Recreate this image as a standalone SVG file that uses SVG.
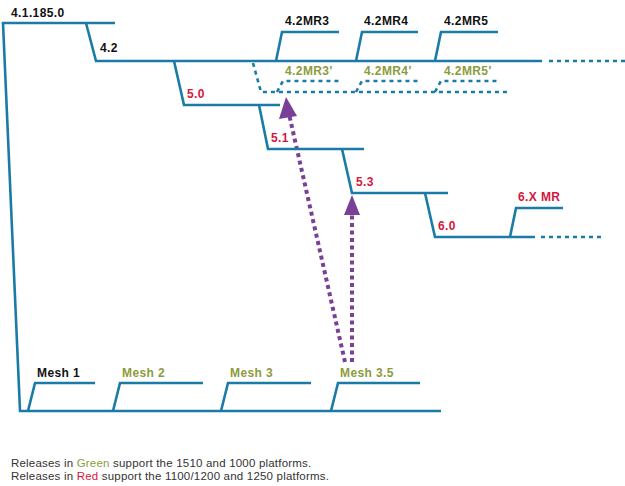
<svg xmlns="http://www.w3.org/2000/svg" width="625" height="486" viewBox="0 0 625 486">
  <defs>
    <style>
      .ln{fill:none;stroke:#1a7ca6;stroke-width:2.6;stroke-linejoin:miter}
      .dt{fill:none;stroke:#1a7ca6;stroke-width:2.6;stroke-dasharray:4 4}
      .ar{fill:none;stroke:#7a3f96;stroke-width:4;stroke-dasharray:4 3.5}
      .lb{font-family:"Liberation Sans",Arial,sans-serif;font-weight:bold;font-size:12px;letter-spacing:0.4px}
      .k{fill:#111}
      .r{fill:#d3173d}
      .g{fill:#8c9b3c}
      .ft{font-family:"Liberation Sans",Arial,sans-serif;font-size:11.5px;letter-spacing:0.2px;fill:#333}
    </style>
  </defs>
  <rect width="625" height="486" fill="#ffffff"/>

  <g id="connectors">
    <path class="ar" d="M345,362 L289,114"/>
    <path d="M286,97 L279,119 L297,116 Z" fill="#7a3f96"/>
    <path class="ar" d="M352,362 L352,213"/>
    <path d="M352,195 L344,215 L360,215 Z" fill="#7a3f96"/>
  </g>

  <g id="n-root">
    <path class="ln" d="M115,23 L3,23 L20,411 L441,411"/>
    <text class="lb k" x="11" y="17">4.1.185.0</text>
  </g>

  <g id="n-42">
    <path class="ln" d="M86,23 L96,61 L542,61"/>
    <path class="dt" d="M549,61 L625,61"/>
    <text class="lb k" x="100" y="52">4.2</text>
  </g>

  <g id="n-42mr3">
    <path class="ln" d="M276,61 L282,32 L339,32"/>
    <text class="lb k" x="285" y="25">4.2MR3</text>
  </g>
  <g id="n-42mr4">
    <path class="ln" d="M356,61 L362,32 L418,32"/>
    <text class="lb k" x="364" y="25">4.2MR4</text>
  </g>
  <g id="n-42mr5">
    <path class="ln" d="M435,61 L441,32 L498,32"/>
    <text class="lb k" x="444" y="25">4.2MR5</text>
  </g>

  <g id="n-42prime">
    <path class="dt" d="M253,63 L261,92 L508,92"/>
  </g>
  <g id="n-42mr3p">
    <path class="dt" d="M277,92 L283,81 L339,81"/>
    <text class="lb g" x="285" y="75">4.2MR3'</text>
  </g>
  <g id="n-42mr4p">
    <path class="dt" d="M356,92 L362,81 L418,81"/>
    <text class="lb g" x="364" y="75">4.2MR4'</text>
  </g>
  <g id="n-42mr5p">
    <path class="dt" d="M435,92 L441,81 L498,81"/>
    <text class="lb g" x="444" y="75">4.2MR5'</text>
  </g>

  <g id="n-50">
    <path class="ln" d="M174,61 L184,105 L280,105"/>
    <text class="lb r" x="187" y="98">5.0</text>
  </g>
  <g id="n-51">
    <path class="ln" d="M259,105 L268,149 L364,149"/>
    <text class="lb r" x="271" y="142">5.1</text>
  </g>
  <g id="n-53">
    <path class="ln" d="M342,149 L352,193 L448,193"/>
    <text class="lb r" x="356" y="186">5.3</text>
  </g>
  <g id="n-60">
    <path class="ln" d="M425,193 L435,237 L535,237"/>
    <path class="dt" d="M541,237 L601,237"/>
    <text class="lb r" x="438" y="230">6.0</text>
  </g>
  <g id="n-6xmr">
    <path class="ln" d="M510,237 L516,208 L563,208"/>
    <text class="lb r" x="518" y="201">6.X MR</text>
  </g>

  <g id="n-mesh1">
    <path class="ln" d="M28,411 L35,383 L95,383"/>
    <text class="lb k" x="37" y="377">Mesh 1</text>
  </g>
  <g id="n-mesh2">
    <path class="ln" d="M113,411 L120,383 L203,383"/>
    <text class="lb g" x="122" y="377">Mesh 2</text>
  </g>
  <g id="n-mesh3">
    <path class="ln" d="M221,411 L228,383 L311,383"/>
    <text class="lb g" x="230" y="377">Mesh 3</text>
  </g>
  <g id="n-mesh35">
    <path class="ln" d="M331,411 L338,383 L420,383"/>
    <text class="lb g" x="340" y="377">Mesh 3.5</text>
  </g>

  <g id="legend">
    <text class="ft" x="11" y="467">Releases in <tspan fill="#8c9b3c">Green</tspan> support the 1510 and 1000 platforms.</text>
    <text class="ft" x="11" y="480">Releases in <tspan fill="#d3173d">Red</tspan> support the 1100/1200 and 1250 platforms.</text>
  </g>
</svg>
